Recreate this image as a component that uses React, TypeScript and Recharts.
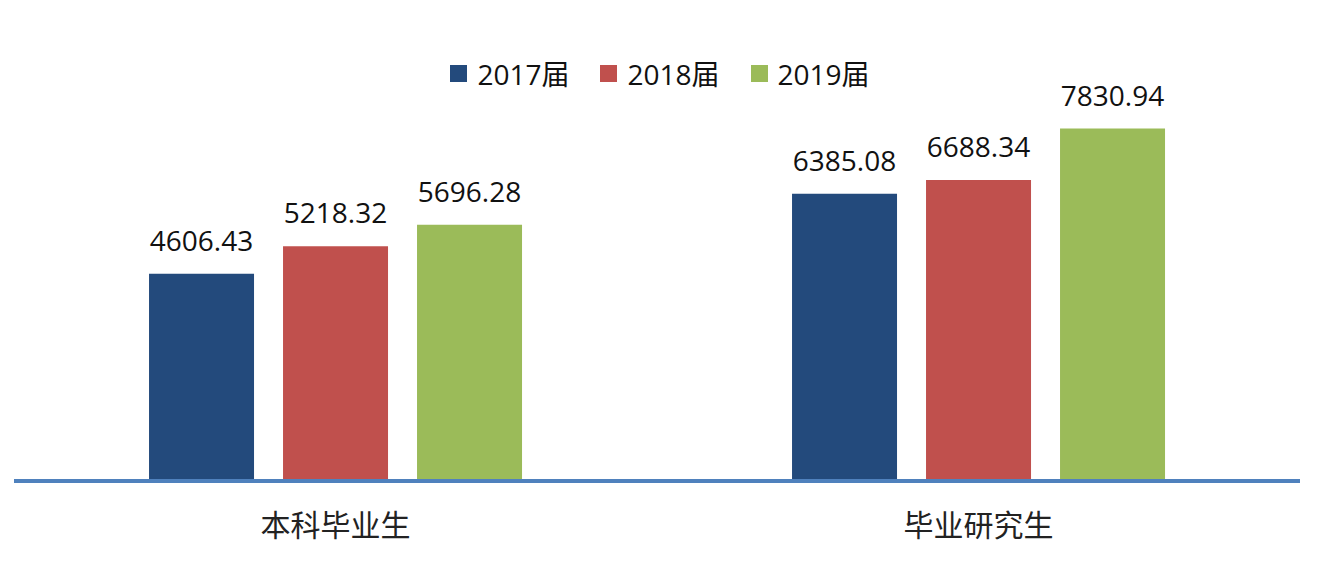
import React from "react";
import { BarChart, Bar, XAxis, YAxis, Legend, LabelList } from "recharts";

const CATEGORIES = ["本科毕业生", "毕业研究生"];
const SERIES_NAMES = ["2017届", "2018届", "2019届"];
const VALUES_2017 = [4606.43, 6385.08];
const VALUES_2018 = [5218.32, 6688.34];
const VALUES_2019 = [5696.28, 7830.94];

const COLORS = ["#234a7c", "#c0504d", "#9bbb59"];
const FONT = "'Open Sans', 'Noto Sans CJK SC', sans-serif";

const data = CATEGORIES.map((name, i) => ({
  name,
  y2017: VALUES_2017[i],
  y2018: VALUES_2018[i],
  y2019: VALUES_2019[i],
}));

const KEYS = ["y2017", "y2018", "y2019"];

const renderLegend = () => (
  <div
    style={{
      display: "flex",
      justifyContent: "center",
      alignItems: "center",
      gap: 31,
      fontFamily: FONT,
      fontSize: 28,
      color: "#111",
    }}
  >
    {SERIES_NAMES.map((name, i) => (
      <div key={name} style={{ display: "flex", alignItems: "center" }}>
        <span
          style={{
            display: "inline-block",
            width: 17,
            height: 17,
            background: COLORS[i],
            marginRight: 10,
          }}
        />
        <span>{name}</span>
      </div>
    ))}
  </div>
);

export default function App() {
  return (
    <div style={{ position: "absolute", left: 0, top: 0 }}>
      <BarChart
        width={1320}
        height={564}
        data={data}
        margin={{ top: 76, right: 20, left: 14, bottom: 23 }}
        barCategoryGap="21%"
        barGap={29}
      >
        <XAxis
          dataKey="name"
          height={60}
          tickLine={false}
          tickSize={0}
          tickMargin={34}
          axisLine={{ stroke: "#4f81bd", strokeWidth: 4 }}
          tick={{ fontFamily: FONT, fontSize: 30, fill: "#222" }}
        />
        <YAxis hide domain={[0, 9000]} />
        <Legend
          layout="horizontal"
          verticalAlign="middle"
          align="center"
          content={renderLegend}
          wrapperStyle={{ top: 53, left: 0, width: 1320 }}
        />
        {KEYS.map((k, i) => (
          <Bar
            key={k}
            dataKey={k}
            name={SERIES_NAMES[i]}
            fill={COLORS[i]}
            isAnimationActive={false}
          >
            <LabelList
              dataKey={k}
              position="top"
              offset={23}
              formatter={(v: number) => v.toFixed(2)}
              style={{ fontFamily: FONT, fontSize: 28, fill: "#111" }}
            />
          </Bar>
        ))}
      </BarChart>
    </div>
  );
}
